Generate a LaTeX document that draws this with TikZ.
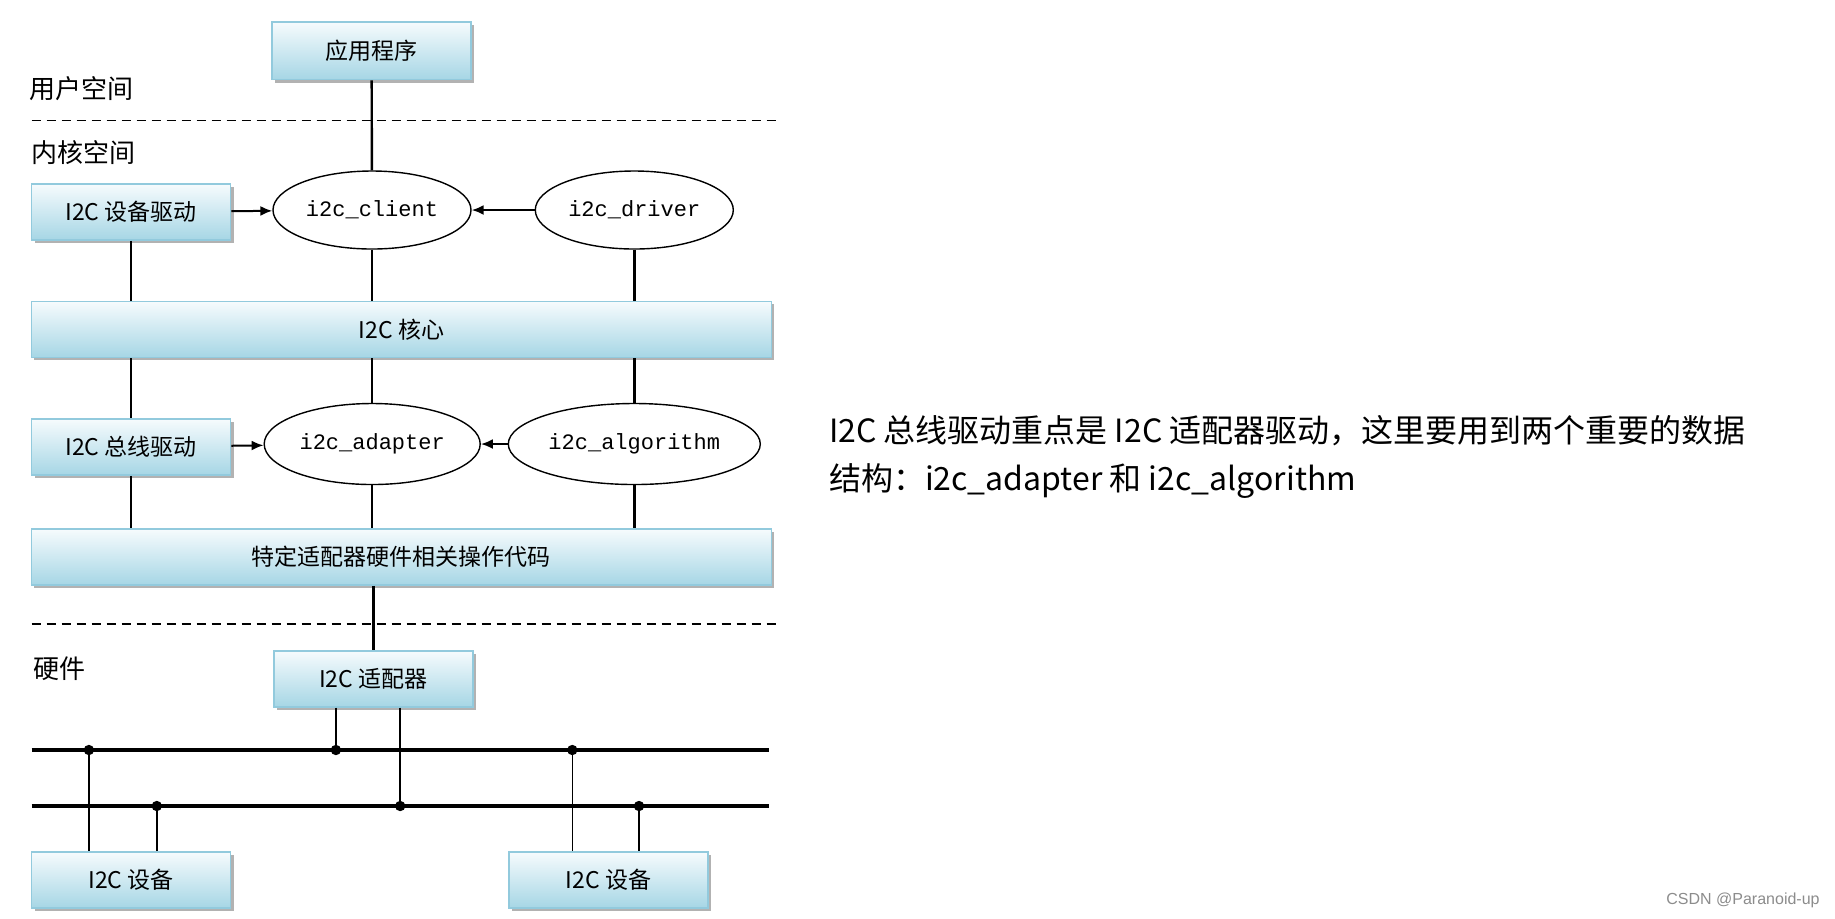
\documentclass[tikz,border=0pt]{standalone}
\usepackage{fontspec}
\setmainfont{Noto Sans CJK SC}
\setmonofont{Liberation Mono}
\newfontfamily\markfont{Liberation Sans}
\usetikzlibrary{positioning,shapes.geometric,shadows,arrows.meta}

\definecolor{boxtop}{HTML}{F6FBFD}
\definecolor{boxbottom}{HTML}{A6D6E5}
\definecolor{boxedge}{HTML}{92CADD}

\begin{document}
\begin{tikzpicture}[x=0.5pt, y=-0.5pt,
    box/.style={draw=boxedge, line width=0.8pt, top color=boxtop, bottom color=boxbottom,
        drop shadow={shadow xshift=1.5pt, shadow yshift=-1.5pt, fill=black!60, opacity=0.5},
        minimum width=99.5pt, minimum height=28pt, inner sep=0pt, font=\fontsize{11.5}{13}\selectfont},
    oval/.style={draw, ellipse, fill=white, line width=0.7pt, inner sep=0pt, minimum height=39pt,
        font=\ttfamily\fontsize{11}{13}\selectfont},
    conn/.style={line width=1.2pt},
    feed/.style={line width=1pt, -{Latex[length=6pt,width=5pt]}},
    bus/.style={line width=2pt},
    tap/.style={line width=0.8pt},
    sep/.style={dash pattern=on 4.5pt off 3pt, line width=0.8pt},
    zone/.style={anchor=west, inner sep=0pt, font=\fontsize{13}{15}\selectfont}]

    \path[use as bounding box, fill=white] (0,0) rectangle (1835,918);

    % user space / kernel space
    \node [box, minimum height=28.8pt] (app) at (371.6,50.8) {应用程序};
    \node [zone] (user) at (29,89) {用户空间};
    \coordinate (sep1w) at (31.6,120.5);
    \coordinate (sep1e) at (776,120.5);
    \draw [sep] (sep1w) -- (sep1e);
    \node [zone] (kernel) at (31,153) {内核空间};

    \node [box] (devdrv) at (131,212) {I2C 设备驱动};
    \node [oval, minimum width=99pt] (client) at (372,210) {i2c\_client};
    \node [oval, minimum width=99pt] (driver) at (634.3,210) {i2c\_driver};
    \node [box, minimum width=370pt] (core) at (401.4,329.4) {I2C 核心};
    \node [box] (busdrv) at (131,447) {I2C 总线驱动};
    \node [oval, minimum width=108pt, minimum height=40.5pt] (adapter) at (372.2,444) {i2c\_adapter};
    \node [oval, minimum width=126pt, minimum height=40.5pt] (algo) at (634.3,444) {i2c\_algorithm};
    \node [box, minimum width=370pt] (hwops) at (401.4,557) {特定适配器硬件相关操作代码};

    \draw [conn] (app) -- (client);
    \draw [feed] (devdrv) -- (client);
    \draw [feed] (driver) -- (client);
    \draw [conn] (devdrv.south) -- (devdrv.south |- core.north);
    \draw [conn] (client.south) -- (client.south |- core.north);
    \draw [conn] (driver.south) -- (driver.south |- core.north);
    \draw [conn] (busdrv.north |- core.south) -- (busdrv.north);
    \draw [conn] (adapter.north |- core.south) -- (adapter.north);
    \draw [conn] (algo.north |- core.south) -- (algo.north);
    \draw [feed] (busdrv) -- (adapter);
    \draw [feed] (algo) -- (adapter);
    \draw [conn] (busdrv.south) -- (busdrv.south |- hwops.north);
    \draw [conn] (adapter.south) -- (adapter.south |- hwops.north);
    \draw [conn] (algo.south) -- (algo.south |- hwops.north);

    % hardware
    \coordinate (sep2w) at (31.6,623.8);
    \coordinate (sep2e) at (778,623.8);
    \draw [sep] (sep2w) -- (sep2e);
    \node [zone] (hw) at (33,669) {硬件};
    \node [box] (hwadp) at (373.3,678.8) {I2C 适配器};
    \draw [conn] (hwadp.north |- hwops.south) -- (hwadp.north);

    \coordinate (bus1w) at (31.6,750);
    \coordinate (bus1e) at (769,750);
    \coordinate (bus2w) at (31.6,806);
    \coordinate (bus2e) at (769,806);
    \draw [bus] (bus1w) -- (bus1e);
    \draw [bus] (bus2w) -- (bus2e);

    \node [box] (devA) at (131,880) {I2C 设备};
    \node [box] (devB) at (608.6,880) {I2C 设备};

    \coordinate (t1) at (88.9,750);
    \coordinate (t2) at (335.9,750);
    \coordinate (t3) at (572.3,750);
    \coordinate (t4) at (156.8,806);
    \coordinate (t5) at (400.2,806);
    \coordinate (t6) at (639,806);
    \draw [tap] (t2 |- hwadp.south) -- (t2);
    \draw [tap] (t5 |- hwadp.south) -- (t5);
    \draw [tap] (t1) -- (t1 |- devA.north);
    \draw [tap] (t4) -- (t4 |- devA.north);
    \draw [tap] (t3) -- (t3 |- devB.north);
    \draw [tap] (t6) -- (t6 |- devB.north);
    \foreach \t in {t1,t2,t3,t4,t5,t6}
        \fill (\t) circle (2.6pt);

    % note on the right
    \node [anchor=west, align=left, inner sep=0pt, font=\fontsize{16}{24}\selectfont] (note) at (828.6,457)
        {I2C 总线驱动重点是 I2C 适配器驱动，这里要用到两个重要的数据\\结构：i2c\_adapter 和 i2c\_algorithm};
    \node [anchor=east, inner sep=0pt, text=black!45, font=\markfont\fontsize{8}{10}\selectfont] (mark) at (1820,900) {CSDN @Paranoid-up};
\end{tikzpicture}
\end{document}
